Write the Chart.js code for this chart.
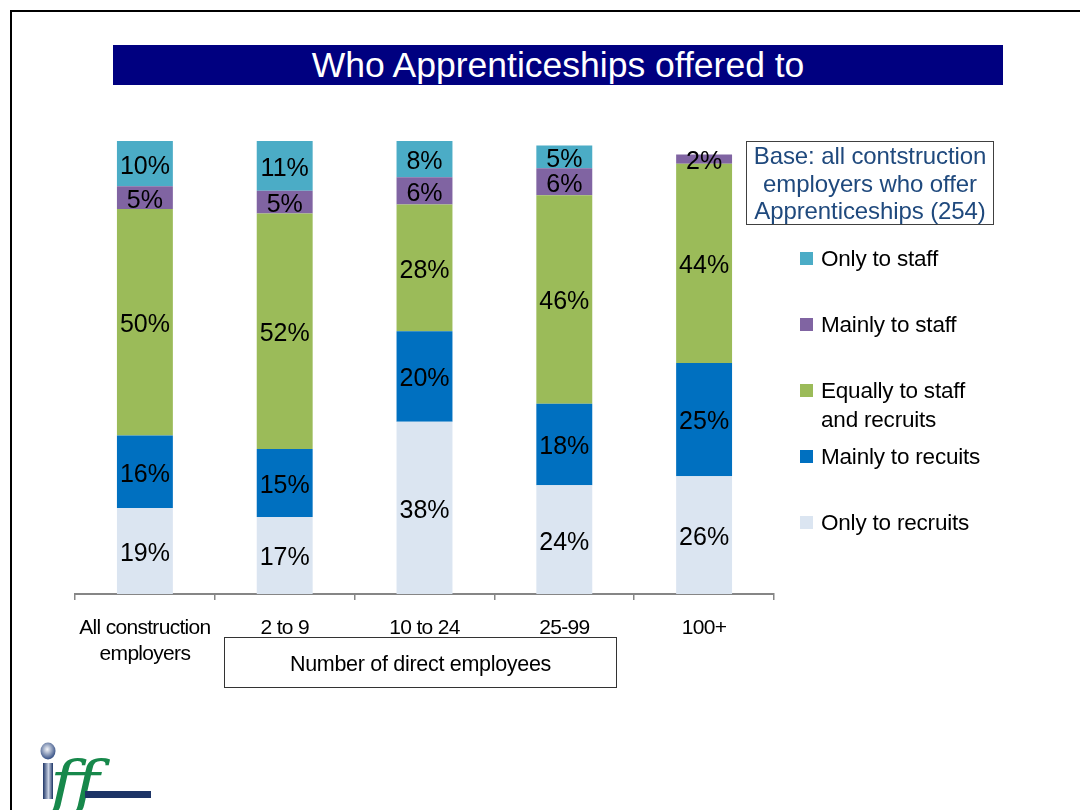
<!DOCTYPE html>
<html>
<head>
<meta charset="utf-8">
<script src="https://cdn.jsdelivr.net/npm/chart.js@4.4.0/dist/chart.umd.min.js"></script>
<style>
html,body{margin:0;padding:0;background:#fff;}
body{width:1080px;height:810px;position:relative;overflow:hidden;font-family:"Liberation Sans",Arial,sans-serif;}
#frame{position:absolute;left:10px;top:10px;width:1100px;height:820px;border-left:2px solid #000;border-top:2px solid #000;}
#title{position:absolute;left:113px;top:45px;width:890px;height:40px;background:#000080;color:#fff;font-size:35.5px;line-height:40px;text-align:center;}
#chart{position:absolute;left:0;top:0;}
#base{position:absolute;left:746px;top:141px;width:246px;height:82px;border:1.5px solid #404040;color:#1F497D;font-size:24px;line-height:27.5px;text-align:center;letter-spacing:-0.1px;}
#legend{position:absolute;left:800px;top:0;}
.item{position:absolute;left:0;width:190px;font-size:22.5px;line-height:29px;letter-spacing:-0.2px;color:#000;}
.item .sw{position:absolute;left:0;top:8px;width:13px;height:13px;}
.item .tx{position:absolute;left:21px;top:0;width:170px;}
#xtitle{position:absolute;left:224px;top:637px;width:391px;height:49px;border:1.5px solid #333;font-size:21.5px;line-height:53px;text-align:center;letter-spacing:-0.3px;}
#logo{position:absolute;left:20px;top:730px;}
</style>
</head>
<body>
<div id="frame"></div>
<div id="title">Who Apprenticeships offered to</div>
<canvas id="chart" width="1080" height="810"></canvas>
<div id="base">Base: all contstruction<br>employers who offer<br>Apprenticeships (254)</div>
<div id="legend"></div>
<div id="xtitle">Number of direct employees</div>
<svg id="logo" width="150" height="80">
  <defs>
    <radialGradient id="ball" cx="0.45" cy="0.4" r="0.65">
      <stop offset="0" stop-color="#f4f6fa"/>
      <stop offset="1" stop-color="#23407a"/>
    </radialGradient>
    <linearGradient id="stem" x1="0" y1="0" x2="1" y2="0">
      <stop offset="0" stop-color="#1d3466"/>
      <stop offset="0.55" stop-color="#c9d2e4"/>
      <stop offset="1" stop-color="#1d3466"/>
    </linearGradient>
  </defs>
  <ellipse cx="28" cy="21" rx="7.5" ry="8.5" fill="url(#ball)"/>
  <rect x="23" y="33" width="10" height="36" fill="url(#stem)"/>
  <text x="30" y="74" font-family="DejaVu Serif" font-style="italic" font-size="60" fill="#17884b" textLength="50" lengthAdjust="spacingAndGlyphs">ff</text>
  <rect x="65" y="61" width="66" height="7" fill="#1d3466"/>
</svg>
<script>
// categories and series, stacked bottom to top
const categories = [['All construction', 'employers'], '2 to 9', '10 to 24', '25-99', '100+'];
const seriesNames = ['Only to recruits', 'Mainly to recuits', 'Equally to staff and recruits', 'Mainly to staff', 'Only to staff'];
const seriesColors = ['#DBE5F1', '#0070C0', '#9BBB59', '#8064A2', '#4BACC6'];

const onlyRecruits   = [19, 17, 38, 24, 26];
const mainlyRecruits = [16, 15, 20, 18, 25];
const equally        = [50, 52, 28, 46, 44];
const mainlyStaff    = [5, 5, 6, 6, 2];
const onlyStaff      = [10, 11, 8, 5, 0];

const seriesValues = [onlyRecruits, mainlyRecruits, equally, mainlyStaff, onlyStaff];

const FONT = '"Liberation Sans", Arial, sans-serif';

// tighter tick text like the original
const tightText = {
  id: 'tightText',
  beforeDraw(chart){ chart.ctx.letterSpacing = '-0.7px'; }
};

// percent labels in the middle of each segment
const valueLabels = {
  id: 'valueLabels',
  afterDatasetsDraw(chart){
    const ctx = chart.ctx;
    ctx.save();
    ctx.letterSpacing = '0px';
    ctx.font = '25px ' + FONT;
    ctx.fillStyle = '#000';
    ctx.textAlign = 'center';
    ctx.textBaseline = 'middle';
    chart.data.datasets.forEach((ds, i) => {
      chart.getDatasetMeta(i).data.forEach((bar, j) => {
        const v = ds.data[j];
        if(!v) return;
        ctx.fillText(v + '%', bar.x, (bar.y + bar.base) / 2 + 3);
      });
    });
    ctx.restore();
  }
};

const chart = new Chart(document.getElementById('chart'), {
  type: 'bar',
  data: {
    labels: categories,
    datasets: seriesNames.map((name, i) => ({
      label: name,
      data: seriesValues[i],
      backgroundColor: seriesColors[i],
      borderWidth: 0,
      barPercentage: 0.4,
      categoryPercentage: 1
    }))
  },
  options: {
    responsive: false,
    animation: false,
    layout: { padding: { left: 75, right: 306, top: 141, bottom: 0 } },
    plugins: { legend: { display: false }, tooltip: { enabled: false } },
    scales: {
      x: {
        stacked: true,
        afterFit(scale){ scale.height = 216; },
        grid: { drawOnChartArea: false, tickLength: 6, color: '#868686', lineWidth: 1.5 },
        border: { color: '#868686', width: 2 },
        ticks: {
          color: '#000',
          padding: 15,
          maxRotation: 0,
          autoSkip: false,
          font: { family: FONT, size: 21, lineHeight: 1.25 }
        }
      },
      y: { stacked: true, display: false, min: 0, max: 100 }
    }
  },
  plugins: [tightText, valueLabels]
});

// legend built from the datasets, top item first
const legendEl = document.getElementById('legend');
const legendTops = [244, 310, 376, 442, 508];
chart.data.datasets.slice().reverse().forEach((ds, k) => {
  const item = document.createElement('div');
  item.className = 'item';
  item.style.top = legendTops[k] + 'px';
  item.innerHTML = '<div class="sw" style="background:' + ds.backgroundColor + '"></div><div class="tx">' + ds.label + '</div>';
  legendEl.appendChild(item);
});
</script>
</body>
</html>
